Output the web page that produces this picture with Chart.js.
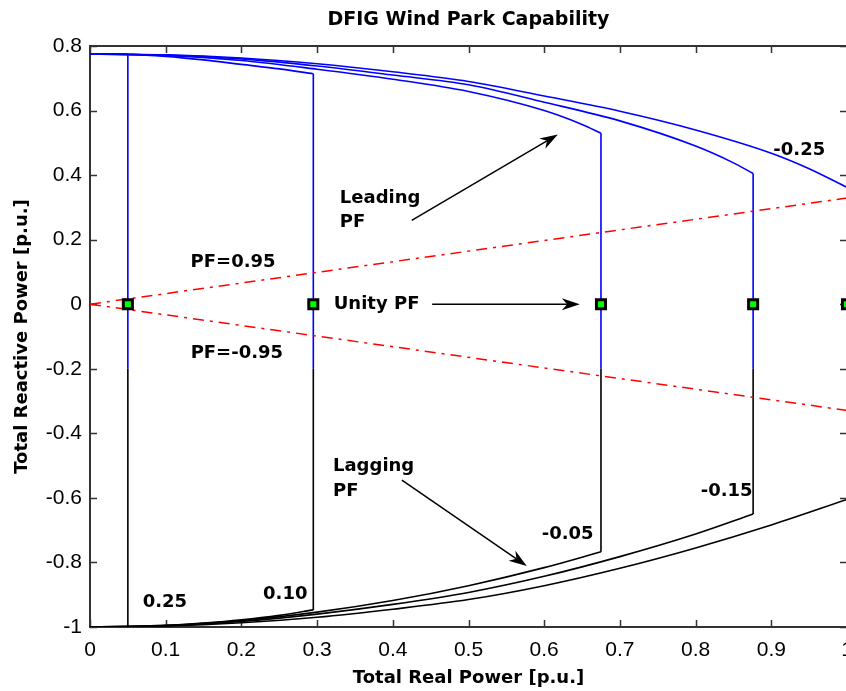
<!DOCTYPE html>
<html>
<head>
<meta charset="utf-8">
<title>DFIG Wind Park Capability</title>
<script src="https://cdn.jsdelivr.net/npm/chart.js@4.4.1/dist/chart.umd.min.js"></script>
<style>
    html, body { margin: 0; padding: 0; background: #ffffff; overflow: hidden; }
    #wrap { width: 846px; height: 691px; overflow: hidden; position: relative; }
    #box { position: absolute; left: 0; top: 0; width: 900px; height: 691px; }
</style>
</head>
<body>
<div id="wrap"><div id="box"><canvas id="capChart"></canvas></div></div>
<script>
// scenario labels and the real power where each one is capped
const scenarioLabels = ['0.25', '0.10', '-0.05', '-0.15', '-0.25'];
const limitP = [0.05, 0.295, 0.675, 0.876, 1.0];
const colourSwitchQ = -0.2;

// leading (upper) limit curves
const leadP_025 = [0, 0.05];
const leadQ_025 = [0.775, 0.775];
const leadP_010 = [0, 0.05, 0.1, 0.15, 0.2, 0.25, 0.295];
const leadQ_010 = [0.775, 0.774, 0.768, 0.757, 0.743, 0.729, 0.714];
const leadP_m005 = [0, 0.1, 0.2, 0.3, 0.4, 0.5, 0.6, 0.65, 0.675];
const leadQ_m005 = [0.775, 0.771, 0.755, 0.728, 0.697, 0.659, 0.600, 0.557, 0.530];
const leadP_m015 = [0, 0.1, 0.2, 0.3, 0.4, 0.5, 0.6, 0.7, 0.8, 0.85, 0.876];
const leadQ_m015 = [0.775, 0.772, 0.760, 0.738, 0.710, 0.680, 0.626, 0.568, 0.490, 0.438, 0.405];
const leadP_m025 = [0, 0.1, 0.2, 0.3, 0.4, 0.5, 0.6, 0.7, 0.8, 0.9, 0.95, 1.0];
const leadQ_m025 = [0.775, 0.773, 0.763, 0.745, 0.720, 0.690, 0.645, 0.598, 0.540, 0.468, 0.420, 0.362];

// lagging (lower) limit curves
const lagP_025 = [0, 0.05];
const lagQ_025 = [-1.0, -1.0];
const lagP_010 = [0, 0.1, 0.15, 0.2, 0.25, 0.295];
const lagQ_010 = [-1.0, -0.995, -0.988, -0.978, -0.964, -0.947];
const lagP_m005 = [0, 0.1, 0.2, 0.3, 0.4, 0.5, 0.6, 0.675];
const lagQ_m005 = [-1.0, -0.995, -0.980, -0.954, -0.918, -0.872, -0.816, -0.767];
const lagP_m015 = [0, 0.1, 0.2, 0.3, 0.4, 0.5, 0.6, 0.7, 0.8, 0.876];
const lagQ_m015 = [-1.0, -0.996, -0.983, -0.960, -0.930, -0.893, -0.843, -0.782, -0.712, -0.650];
const lagP_m025 = [0, 0.1, 0.2, 0.3, 0.4, 0.5, 0.6, 0.7, 0.8, 0.9, 1.0];
const lagQ_m025 = [-1.0, -0.997, -0.987, -0.970, -0.945, -0.915, -0.872, -0.818, -0.755, -0.684, -0.605];

// power factor 0.95 boundary lines
const pfLineP = [0, 1];
const pfLeadQ = [0, 0.329];
const pfLagQ = [0, -0.329];

// unity PF operating points
const unityP = [0.05, 0.295, 0.675, 0.876, 1.0];
const unityQ = [0, 0, 0, 0, 0];

// axes
const xTickValues = [0, 0.1, 0.2, 0.3, 0.4, 0.5, 0.6, 0.7, 0.8, 0.9, 1];
const xTickLabels = ['0', '0.1', '0.2', '0.3', '0.4', '0.5', '0.6', '0.7', '0.8', '0.9', '1'];
const yTickValues = [-1, -0.8, -0.6, -0.4, -0.2, 0, 0.2, 0.4, 0.6, 0.8];
const yTickLabels = ['-1', '-0.8', '-0.6', '-0.4', '-0.2', '0', '0.2', '0.4', '0.6', '0.8'];

const leadCurves = [[leadP_025, leadQ_025], [leadP_010, leadQ_010], [leadP_m005, leadQ_m005], [leadP_m015, leadQ_m015], [leadP_m025, leadQ_m025]];
const lagCurves = [[lagP_025, lagQ_025], [lagP_010, lagQ_010], [lagP_m005, lagQ_m005], [lagP_m015, lagQ_m015], [lagP_m025, lagQ_m025]];

// text notes, placed in data units
const notes = [
    { text: 'PF=0.95', x: 0.189, y: 0.130, align: 'center' },
    { text: 'PF=-0.95', x: 0.194, y: -0.152, align: 'center' },
    { text: 'Unity PF', x: 0.322, y: 0.0, align: 'left' },
    { text: 'Leading', x: 0.330, y: 0.328, align: 'left' },
    { text: 'PF', x: 0.330, y: 0.254, align: 'left' },
    { text: 'Lagging', x: 0.321, y: -0.502, align: 'left' },
    { text: 'PF', x: 0.321, y: -0.579, align: 'left' },
    { text: scenarioLabels[0], x: 0.099, y: -0.923, align: 'center' },
    { text: scenarioLabels[1], x: 0.258, y: -0.898, align: 'center' },
    { text: scenarioLabels[2], x: 0.631, y: -0.712, align: 'center' },
    { text: scenarioLabels[3], x: 0.841, y: -0.579, align: 'center' },
    { text: scenarioLabels[4], x: 0.937, y: 0.477, align: 'center' }
];
const arrows = [
    { from: [0.425, 0.260], to: [0.618, 0.526] },
    { from: [0.452, 0.0], to: [0.647, 0.0] },
    { from: [0.412, -0.545], to: [0.577, -0.811] }
];

const toPoints = (xs, ys) => xs.map((v, i) => ({ x: v, y: ys[i] }));

const lineSet = (points, color, smooth) => ({
    data: points,
    showLine: true,
    borderColor: color,
    borderWidth: 1.6,
    pointRadius: 0,
    fill: false,
    cubicInterpolationMode: smooth ? 'monotone' : 'default',
    tension: 0
});

const buildDatasets = () => {
    const sets = [];
    sets.push({
        data: toPoints(unityP, unityQ),
        showLine: false,
        pointStyle: 'rect',
        pointRadius: 6.4,
        pointBackgroundColor: '#00ff00',
        pointBorderColor: '#000000',
        pointBorderWidth: 3
    });
    [pfLeadQ, pfLagQ].forEach((q) => {
        sets.push({
            data: toPoints(pfLineP, q),
            showLine: true,
            borderColor: '#ff0000',
            borderWidth: 1.5,
            borderDash: [11, 6, 3, 6],
            pointRadius: 0
        });
    });
    leadCurves.forEach(([p, q], i) => {
        const last = q[q.length - 1];
        const lagQ = lagCurves[i][1];
        sets.push(lineSet(toPoints(p, q), '#0000ff', true));
        sets.push(lineSet(toPoints([limitP[i], limitP[i]], [last, colourSwitchQ]), '#0000ff', false));
        sets.push(lineSet(toPoints([limitP[i], limitP[i]], [colourSwitchQ, lagQ[lagQ.length - 1]]), '#000000', false));
        sets.push(lineSet(toPoints(lagCurves[i][0], lagQ), '#000000', true));
    });
    return sets;
};

const drawArrow = (ctx, x0, y0, x1, y1) => {
    const ang = Math.atan2(y1 - y0, x1 - x0);
    const dx = Math.cos(ang), dy = Math.sin(ang);
    const nx = -dy, ny = dx;
    const len = 18, half = 6;
    ctx.beginPath();
    ctx.moveTo(x0, y0);
    ctx.lineTo(x1 - dx * len * 0.7, y1 - dy * len * 0.7);
    ctx.stroke();
    ctx.beginPath();
    ctx.moveTo(x1, y1);
    ctx.lineTo(x1 - dx * len + nx * half, y1 - dy * len + ny * half);
    ctx.lineTo(x1 - dx * len * 0.7, y1 - dy * len * 0.7);
    ctx.lineTo(x1 - dx * len - nx * half, y1 - dy * len - ny * half);
    ctx.closePath();
    ctx.fill();
};

const axesBox = {
    id: 'axesBox',
    beforeDatasetsDraw(chart) {
        const { ctx, chartArea: a, scales: { x, y } } = chart;
        ctx.save();
        ctx.strokeStyle = '#333333';
        ctx.lineWidth = 2;
        ctx.strokeRect(a.left, a.top, a.right - a.left, a.bottom - a.top);
        ctx.lineWidth = 1.5;
        ctx.beginPath();
        xTickValues.forEach((v) => {
            const px = Math.round(x.getPixelForValue(v)) + 0.5;
            ctx.moveTo(px, a.bottom); ctx.lineTo(px, a.bottom - 7);
            ctx.moveTo(px, a.top); ctx.lineTo(px, a.top + 7);
        });
        yTickValues.forEach((v) => {
            const py = Math.round(y.getPixelForValue(v)) + 0.5;
            ctx.moveTo(a.left, py); ctx.lineTo(a.left + 7, py);
            ctx.moveTo(a.right, py); ctx.lineTo(a.right - 7, py);
        });
        ctx.stroke();
        ctx.restore();
    },
    afterDatasetsDraw(chart) {
        const { ctx, scales: { x, y } } = chart;
        ctx.save();
        ctx.fillStyle = '#000000';
        ctx.strokeStyle = '#000000';
        ctx.font = 'bold 18px "DejaVu Sans"';
        ctx.textBaseline = 'middle';
        notes.forEach((n) => {
            ctx.textAlign = n.align;
            ctx.fillText(n.text, x.getPixelForValue(n.x), y.getPixelForValue(n.y));
        });
        ctx.lineWidth = 1.5;
        arrows.forEach((ar) => {
            drawArrow(ctx,
                x.getPixelForValue(ar.from[0]), y.getPixelForValue(ar.from[1]),
                x.getPixelForValue(ar.to[0]), y.getPixelForValue(ar.to[1]));
        });
        ctx.restore();
    }
};

const tickFont = { family: '"Liberation Sans", Arial, sans-serif', size: 21 };
const labelFont = { family: '"DejaVu Sans", sans-serif', size: 18, weight: 'bold' };

window.addEventListener('DOMContentLoaded', () => {
    const ctx = document.getElementById('capChart').getContext('2d');
    new Chart(ctx, {
        type: 'scatter',
        data: { datasets: buildDatasets() },
        options: {
            responsive: true,
            maintainAspectRatio: false,
            animation: false,
            devicePixelRatio: 1,
            layout: { padding: { top: 0, right: 53, bottom: 0, left: 0 } },
            plugins: {
                legend: { display: false },
                tooltip: { enabled: false },
                title: {
                    display: true,
                    text: 'DFIG Wind Park Capability',
                    color: '#000000',
                    fullSize: false,
                    font: { family: '"DejaVu Sans", sans-serif', size: 19, weight: 'bold', lineHeight: 1.2 },
                    padding: { top: 9, bottom: 14.2 }
                }
            },
            scales: {
                x: {
                    type: 'linear',
                    min: 0,
                    max: 1,
                    afterBuildTicks: (scale) => { scale.ticks = xTickValues.map((v) => ({ value: v })); },
                    afterFit: (scale) => { scale.height = 64; },
                    grid: { display: false, drawTicks: false },
                    border: { display: false },
                    ticks: {
                        color: '#000000',
                        font: tickFont,
                        padding: 11,
                        maxRotation: 0,
                        autoSkip: false,
                        callback: (v, i) => xTickLabels[i]
                    },
                    title: {
                        display: true,
                        text: 'Total Real Power [p.u.]',
                        color: '#000000',
                        font: labelFont,
                        padding: { top: 0, bottom: 2 }
                    }
                },
                y: {
                    type: 'linear',
                    min: -1,
                    max: 0.8,
                    afterBuildTicks: (scale) => { scale.ticks = yTickValues.map((v) => ({ value: v })); },
                    afterFit: (scale) => { scale.width = 90; },
                    grid: { display: false, drawTicks: false },
                    border: { display: false },
                    ticks: {
                        color: '#000000',
                        font: tickFont,
                        padding: 8,
                        autoSkip: false,
                        callback: (v, i) => yTickLabels[i]
                    },
                    title: {
                        display: true,
                        text: 'Total Reactive Power [p.u.]',
                        color: '#000000',
                        font: labelFont,
                        padding: { top: 12, bottom: 0 }
                    }
                }
            }
        },
        plugins: [axesBox]
    });
});
</script>
</body>
</html>
